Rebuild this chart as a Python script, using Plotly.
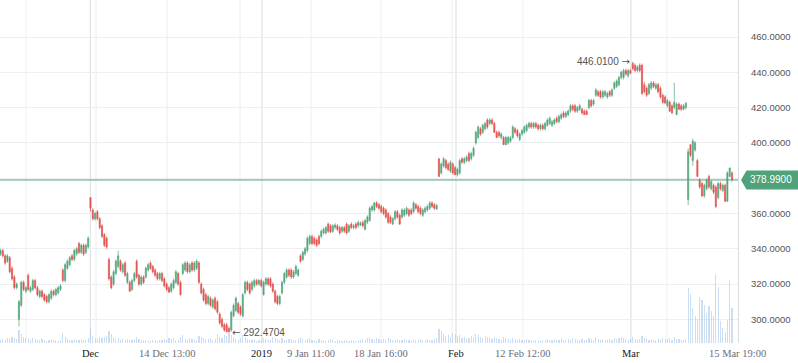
import plotly.graph_objects as go

# ---------------- data ----------------
opens = [
    337,339,336,333,335,329,324,318,300,308,
    321,316,325,316,317,322,318,313,316,314,
    313,310,312,316,314,315,317,328,322,329,
    331,336,334,337,343,338,342,338,341,369,
    362,357,361,357,353,348,346,334,324,320,
    326,330,333,327,332,321,321,317,322,333,
    325,320,324,324,328,332,330,328,326,323,
    326,323,320,318,316,318,321,326,321,326,
    328,332,327,332,328,329,332,320,317,314,
    309,312,307,312,310,303,300,297,297,295,
    294,302,305,309,307,302,315,321,320,317,
    319,322,320,322,314,320,323,323,320,316,
    313,309,315,321,324,328,328,324,326,325,
    336,334,337,339,343,347,346,345,347,347,
    349,349,354,353,350,352,353,352,350,352,
    354,350,354,352,354,353,353.5,355,351,355,
    356,362,362,366,365,364,363,362,360,358,
    354,357,361,359,358,359,360,362,362,361,
    365,364,363,359,361,362,363,366,365,362.5,
    391,383,387,390,388,384,388,386,382,383,
    391,389,390,394,391,393,400,403,408,406,
    408,413,411,413,411,406,406,403,403,399,
    400,401,403,408,407,402,405,406,407,409,
    411,409,411,410,408,410,408,410,411,410,
    411,414,412,414,417,415,416,418,421,421,
    418,419,419,418,418,420,424,422,427,429,
    429,426,427,426,429,427,431,432,433,437,
    437,441,438,441,445,444,441,444,444,433,
    431,428,431,434,431,433,431,427,426,421,
    423,421,420,416,422,421,419,420,368,399,
    390,396,390,379,377,370,374,381,374,376,
    375,369,377,373,376,367,381,383,
]
highs = [
    340,340,337,337,336,330,325,321,311,322,
    322,319,326,319,323,323,319,317,317,315,
    314,315,317,317,318,319,320,329,332,334,
    336,337,340,341,344,343,343,343,347,369.3,
    363,361,362,358,354,349,347,335,325,328,
    334,339,334,332,333,327,322,323,327,334,
    326,325,325,330,332,333,331,329,327,327,
    327,324,321,319,321,323,328,327,322,332,
    333,333,332,333,333,334,333,321,318,315,
    314,313,312,313,311,304,301,298,298,296,
    305,309,313,310,308,315,322,322,321,322,
    323,323,323,323,322,324,324,324,321,317,
    314,314,322,327,329,329,329,328,331,329,
    337,339,341,347,348,348,347,346,348,351,
    352,353,355,354,354,354.5,354,353,353,353,
    355,354,355,354,355,356,355.5,356,357,359,
    364,365,366.6,367,366,365,364,363,361,359,
    358,362,362,360,363,363,364,363,363,367,
    366,365,364,363,364,365,367,367,366,365.5,
    391.4,389,392,391,389,390,389,387,386,391,
    392,392,393,395,395,398,407,410,409,411,
    412,414,414,414,412,407,407,406,404,404,
    404,404,410,409,408,406,408,410,411,412,
    412,412,412,411,411,411,412,414,415,413,
    414,415,416,417,418,418,419,422,422,422,
    421,422,420,419,419,425,425,425,431,430,
    430,430,430,429,430,431,435,436,438,441,
    442,442,442,442,446.01,445,444,445,445,434.5,
    432,434,435,435,434,434,432,428,427,425,
    424,422,434,423,423,422,422,423,397,399,
    402.45,401,391,380,378,377,380,382,379,377,
    376,378,378,377,377,384,386,384,
]
lows = [
    336,335,331,332,326,322,317,317,296,307,
    316,315,316,315,316,317,313,312,312,310,
    309,309,311,313,313,314,316,321,321,328,
    330,333,333,336,337,337,336,337,340,361,
    356,356,356,351,346,341,340,322,317,319,
    325,329,327,326,324,320,315.5,316,321,323,
    319,319,320,323,327,328,326,324,322,322,
    321,318,316,315,315,317,320,319,313.5,325,
    327,326,326,327,327,328,320,314,310,308,
    308,307,306,305,303,297,295,293,292.6,292.47,
    293,301,304,303,302,301,314,316,314,316,
    318,319,319,318,313.5,319,319,318,315,309,
    308,308,314,320,323,324,323,323,325,324,
    332,333,336,338,342,342,342,341,342,346,
    348,348,349,349,349,351,350,348,349,349,
    348,349,351,351,351,352,353,352,350.7,354,
    355.4,361,361,363,362,360,359,357,354,354,
    353.5,356,357,353.5,357,358,359,358,359,360,
    362,360,359,358,360,361,362,363,362,362,
    380.7,382,386,385,384,383,382,381.8,381,382,
    388,388,389,389,390,392,399,402,404,405,
    407,408,410,410,405.6,402.8,403,402,398.8,398.8,
    399,400,402,405,403,401,404,405,406,408,
    408,408,408,407,407,407,407,409,410,409,
    410,411,411,413,414,414,415,417,418,417,
    417,418,416,415.8,415.8,419,420,421,426,426,
    425,425,426,425,426,426,430,431,432,436,
    436,438,437,439,441,440,440,440,427,428,
    426,427,430,431,430,428,425,422,422,420,
    417.5,416.5,419,415.8,418.6,418,418.5,419,364.8,392,
    387,395,380.7,374,369.3,369,373,374,373,371,
    363,368,373,372,366.5,366.5,380.7,378,
]
closes = [
    339,336,332,336,327,323,318,320,310,321,
    317,318,317,318,322,318,314,316,313,311,
    310,314,316,314,317,318,319,322,331,333,
    335,334,339,340,338,342,337,342,346,363,
    357,360,357,352,347,342,341,323,318,327,
    333,336,328,331,325,326,316,322,326,324,
    320,324,321,329,331,329,327,325,323,326,
    322,319,317,315.5,320,322,327,320,314,331,
    332,327,331,328,332,333,321,315,311,309,
    313,308,311,306,304,298,296,294,293,293,
    304,308,312,304,303,314,321,317,315,321,
    322,320,322,319,321,323,320,319,316,310,
    309,313,321,326,328,325,324,327,330,328,
    333,338,340,346,347,343,343,342,343,350,
    351,352,350,349.5,353,353.5,351,349,352,350,
    349,353,352,353,352,355,354.5,353,356,358,
    363,364,366,364,363,361,360,358,355,355,
    357,361,358,354,362,362,363,359,360,366,
    363,361,360,362,363,364,366,364,363,364.5,
    381,388,391,386,385,389,383,382,385,390,
    389,391,392,390,394,397,406,409,405,410,
    411,409,413,411,406,403,404,405,399,403,
    403,403,409,406,404,405,407,409,410,411,
    409,411,409,408,410,408,411,413,414,412,
    413,412,415,416,415,417,418,421,419,418,
    420,421,417,416,416,424,421,424,430,427,
    426,429,429,428,427,430,434,435,437,440,
    441,439,441,439.5,442,441,443,441,428,429,
    427,433,434,432,433,429,426,423,422.6,424,
    418,417,423,422,419,419,421,422.5,395,393,
    401,400,381,375,370,376,379,375,378,372,
    364,377,374,376,367,383,385.8,378.99,
]
volumes = [
    3,4,3,5,4,6,5,4,13,9,
    6,5,4,3,5,4,3,3,4,3,
    2,3,4,3,3,2,3,10,6,4,
    3,3,4,3,3,4,3,3,5,14,
    7,5,4,6,5,6,7,12,9,6,
    4,5,3,4,3,4,3,3,4,6,
    4,3,3,3,3,2,3,3,2,3,
    3,4,3,5,4,5,3,3,6,8,
    4,3,5,4,3,3,7,6,5,4,
    4,5,3,4,9,6,5,8,7,10,
    8,6,4,3,5,8,6,4,3,3,
    4,2,3,3,5,4,3,3,6,5,
    4,3,5,3,3,4,4,3,3,4,
    6,4,3,4,5,3,3,2,4,3,
    3,2,3,4,3,2,3,3,2,3,
    3,2,3,3,2,3,3,4,3,5,
    6,4,3,5,4,3,4,3,5,4,
    3,3,4,3,3,4,3,3,2,4,
    3,3,4,3,3,4,3,3,4,5,
    14,12,9,7,8,6,10,9,7,8,
    5,6,4,5,7,6,9,8,6,5,
    7,6,5,4,6,5,4,3,6,5,
    4,3,5,4,3,4,3,3,4,3,
    3,2,3,3,2,3,3,4,3,3,
    4,3,3,5,3,3,4,3,5,4,
    3,3,4,3,3,5,4,3,6,4,
    3,4,3,3,4,3,5,4,5,6,
    5,4,3,4,6,4,3,4,7,5,
    4,3,4,3,3,4,3,5,4,4,
    5,3,6,4,4,3,3,4,55,49,
    35,27,24,46,43,38,30,37,32,27,
    69,56,22,15,11,23,63,35,
]

# time-axis labels (bar positions) and price-axis ticks
time_label_pos = [38.9, 72.2, 113.3, 134.6, 164.9, 197.4, 226.4, 273.2, 319.2]
time_label_text = ["Dec", "14 Dec 13:00", "2019", "9 Jan 11:00", "18 Jan 16:00",
                   "Feb", "12 Feb 12:00", "Mar", "15 Mar 19:00"]
time_label_major = [True, False, True, False, False, True, False, True, False]
grid_light_pos = [11.05, 41.4, 72.2, 103.8, 134.6, 164.9, 195.7, 226.4, 288.8]
grid_dark_pos = [38.9, 113.3, 197.4, 273.2]
price_ticks = [300, 320, 340, 360, 380, 400, 420, 440, 460]
last_price = 378.99
high_mark = (273.6, 446.01)
low_mark = (99.6, 292.4704)

UP = "#53a57c"
DN = "#e0534f"
LAST = "#4fa27a"
ARROW_FONT = "font-family:'DejaVu Sans'"

idx = list(range(len(closes)))

fig = go.Figure()
fig.add_trace(go.Bar(
    x=idx, y=volumes, yaxis="y2", width=0.5,
    marker=dict(color="rgba(160,195,232,0.55)", line=dict(width=0)),
    hoverinfo="skip",
))
fig.add_trace(go.Candlestick(
    x=idx, open=opens, high=highs, low=lows, close=closes,
    increasing=dict(line=dict(color=UP, width=0.7), fillcolor=UP),
    decreasing=dict(line=dict(color=DN, width=0.7), fillcolor=DN),
    whiskerwidth=0,
))

shapes = []
for p in grid_light_pos:
    shapes.append(dict(type="line", xref="x", yref="paper", x0=p, x1=p, y0=0, y1=1,
                       line=dict(color="#eceef2", width=1), layer="below"))
for p in grid_dark_pos:
    shapes.append(dict(type="line", xref="x", yref="paper", x0=p, x1=p, y0=0, y1=1,
                       line=dict(color="#d8dce1", width=1), layer="below"))
# last price line
shapes.append(dict(type="line", xref="paper", yref="y", x0=0, x1=1, y0=last_price, y1=last_price,
                   line=dict(color=LAST, width=1)))
# last price tag
W = 738.0
shapes.append(dict(type="path", xref="paper", yref="y",
                   path=f"M {741/W},{last_price} L {746.5/W},384.3 L {798/W},384.3 "
                        f"L {798/W},373.6 L {746.5/W},373.6 Z",
                   fillcolor=LAST, line=dict(width=0)))

annotations = []
for pos, txt, major in zip(time_label_pos, time_label_text, time_label_major):
    annotations.append(dict(
        x=pos, y=0, xref="x", yref="paper", xanchor="center", yanchor="top", yshift=-3,
        text=txt, showarrow=False,
        font=dict(family="Liberation Serif", size=10.5, color="#131722" if major else "#6a6d78"),
    ))
annotations.append(dict(
    x=771 / W, y=last_price, xref="paper", yref="y", xanchor="center", yanchor="middle",
    text=f"{last_price:.4f}", showarrow=False,
    font=dict(family="Liberation Sans", size=10, color="white"),
))
annotations.append(dict(
    x=high_mark[0], y=high_mark[1], xref="x", yref="y", xanchor="right", yanchor="middle",
    text=f"{high_mark[1]:.4f} <span style=\"{ARROW_FONT}\">\u2192</span>", showarrow=False,
    font=dict(family="Liberation Sans", size=10, color="#555"),
))
annotations.append(dict(
    x=low_mark[0], y=low_mark[1], xref="x", yref="y", xanchor="left", yanchor="middle",
    text=f"<span style=\"{ARROW_FONT}\">\u2190</span> {low_mark[1]:.4f}", showarrow=False,
    font=dict(family="Liberation Sans", size=10, color="#555"),
))

fig.update_layout(
    width=798, height=363,
    margin=dict(l=0, r=60, t=0, b=20),
    paper_bgcolor="white", plot_bgcolor="white",
    showlegend=False,
    xaxis=dict(range=[-0.217, 319.6], showgrid=False, zeroline=False,
               showticklabels=False, rangeslider=dict(visible=False), showline=False),
    yaxis=dict(side="right", range=[286.63, 480.96], tickmode="array",
               tickvals=price_ticks,
               ticktext=["" if v == 380 else f"{v:.4f}" for v in price_ticks],
               showgrid=True, gridcolor="#eceef2", zeroline=False,
               showline=True, linecolor="#d8dce1", ticks="", ticklabelstandoff=10,
               tickfont=dict(family="Liberation Sans", size=9.5, color="#555")),
    yaxis2=dict(overlaying="y", range=[0, 343], visible=False),
    shapes=shapes, annotations=annotations,
    bargap=0,
)

fig.write_html(
    "out.html",
    config={"displayModeBar": False},
    post_script="document.body.style.margin='0';document.body.style.overflow='hidden';",
)
